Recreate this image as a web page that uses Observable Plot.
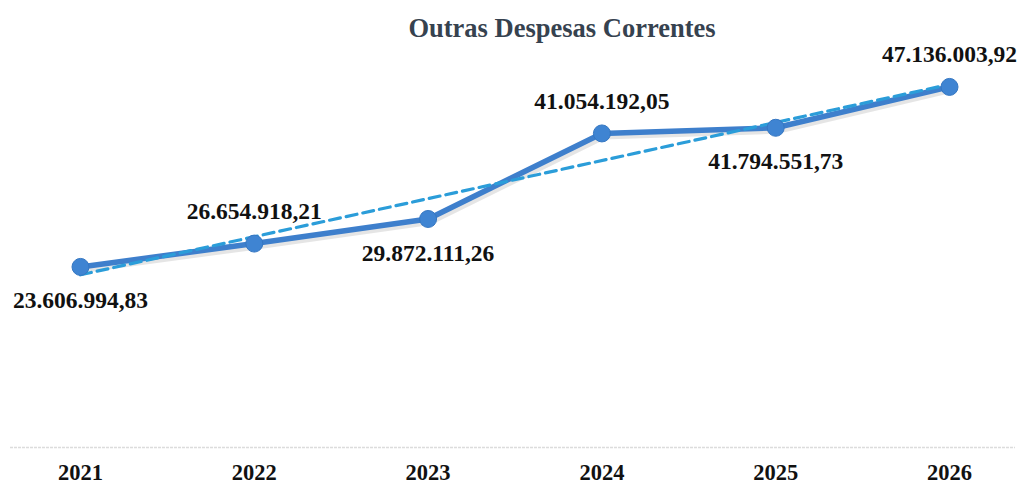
<!DOCTYPE html>
<html>
<head>
<meta charset="utf-8">
<script src="https://cdn.jsdelivr.net/npm/d3@7"></script>
<script src="https://cdn.jsdelivr.net/npm/@observablehq/plot@0.6"></script>
<style>
  html, body { margin: 0; padding: 0; background: #fff; }
  #wrap { width: 1022px; height: 485px; position: relative; }
  #title { position: absolute; left: 562px; top: 28px; transform: translate(-50%, -50%); white-space: nowrap; font-family: "Liberation Serif", serif; font-weight: bold; font-size: 26.5px; color: #36424f; }
  svg { display: block; }
</style>
</head>
<body>
<div id="wrap">
  <div id="chart"></div>
  <div id="title">Outras Despesas Correntes</div>
</div>
<script>
const years = [2021, 2022, 2023, 2024, 2025, 2026];
const values = [23606994.83, 26654918.21, 29872111.26, 41054192.05, 41794551.73, 47136003.92];
const labels = ["23.606.994,83", "26.654.918,21", "29.872.111,26", "41.054.192,05", "41.794.551,73", "47.136.003,92"];

const data = years.map((y, i) => ({year: y, value: values[i], label: labels[i]}));
const below = data.filter((d, i) => i % 2 === 0);
const above = data.filter((d, i) => i % 2 === 1);

const serif = "Liberation Serif, Times New Roman, serif";

const chart = Plot.plot({
  width: 1022,
  height: 485,
  marginLeft: 80,
  marginRight: 73,
  marginTop: 64.5,
  marginBottom: 38,
  style: {fontFamily: serif, background: "transparent", overflow: "visible"},
  x: {type: "linear", domain: [years[0], years[years.length - 1]], label: null},
  y: {domain: [0, 50000000], axis: null},
  marks: [
    Plot.ruleY([0], {stroke: "#dcdcdc", strokeWidth: 1.5, insetLeft: -70, insetRight: -66, strokeDasharray: "3,1"}),
    Plot.axisX({ticks: years, tickFormat: d => String(d), tickSize: 0, tickPadding: 17, fontSize: 22.5, fontWeight: "bold", fill: "#111", fontFamily: serif}),
    // soft shadow under the main line
    Plot.line(data, {x: "year", y: "value", stroke: "#000", strokeOpacity: 0.1, strokeWidth: 6, dx: 2, dy: 3}),
    Plot.line(data, {x: "year", y: "value", stroke: "#3e7fcc", strokeWidth: 5.5, strokeLinejoin: "round"}),
    Plot.linearRegressionY(data, {x: "year", y: "value", stroke: "#2b9dd9", strokeWidth: 3.2, strokeDasharray: "11,6", ci: 0}),
    Plot.dot(data, {x: "year", y: "value", r: 8.5, fill: "#3f84d2", stroke: "#3577c2", strokeWidth: 1}),
    Plot.text(below, {x: "year", y: "value", text: "label", dy: 34, fontSize: 23.5, fontWeight: "bold", fill: "#111", fontFamily: serif}),
    Plot.text(above, {x: "year", y: "value", text: "label", dy: -32, fontSize: 23.5, fontWeight: "bold", fill: "#111", fontFamily: serif})
  ]
});
document.getElementById("chart").appendChild(chart);
</script>
</body>
</html>
